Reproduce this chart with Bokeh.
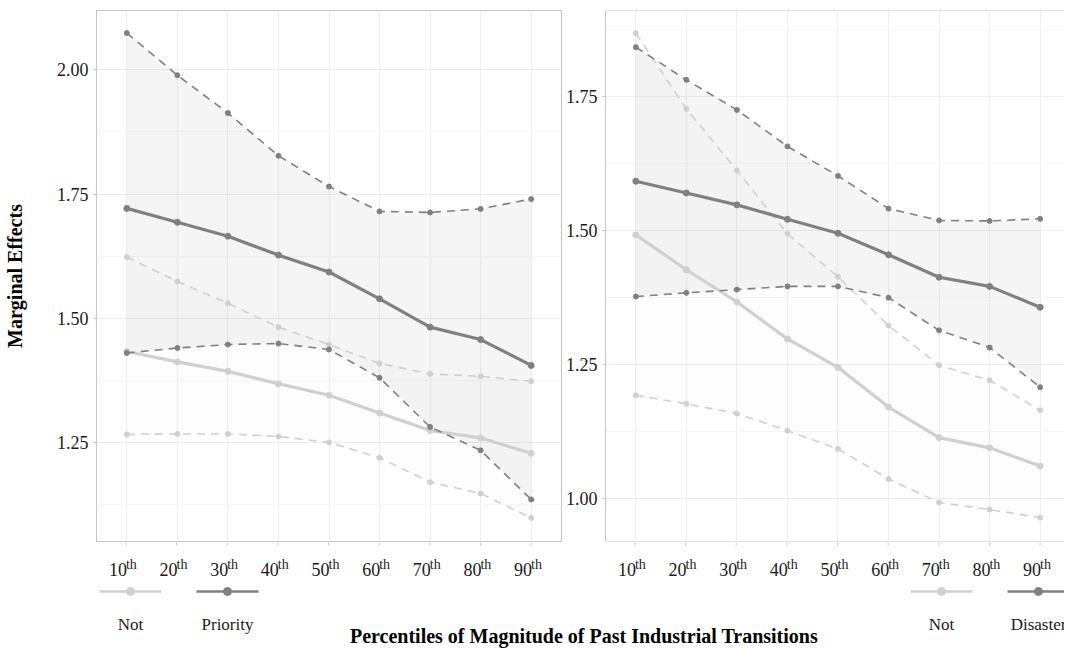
from bokeh.plotting import figure
from bokeh.layouts import column, row
from bokeh.models import Range1d, FixedTicker, Span, NumeralTickFormatter
from bokeh.core.properties import value
from bokeh.embed import file_html
from bokeh.resources import INLINE

# ---------------- data ----------------
percentiles = ["10", "20", "30", "40", "50", "60", "70", "80", "90"]
suffix = "th"
x_pos = [1, 2, 3, 4, 5, 6, 7, 8, 9]

# Left panel: Priority vs Not
left_not_est = [1.433, 1.412, 1.393, 1.368, 1.345, 1.309, 1.274, 1.259, 1.228]
left_not_lo = [1.266, 1.267, 1.267, 1.262, 1.250, 1.219, 1.170, 1.147, 1.098]
left_not_hi = [1.623, 1.574, 1.530, 1.482, 1.447, 1.409, 1.388, 1.383, 1.373]
priority_est = [1.721, 1.693, 1.665, 1.627, 1.593, 1.539, 1.482, 1.457, 1.405]
priority_lo = [1.430, 1.440, 1.447, 1.449, 1.437, 1.380, 1.281, 1.234, 1.135]
priority_hi = [2.074, 1.989, 1.913, 1.827, 1.765, 1.715, 1.713, 1.720, 1.740]

# Right panel: Disaster vs Not
right_not_est = [1.492, 1.427, 1.367, 1.298, 1.245, 1.171, 1.114, 1.095, 1.061]
right_not_lo = [1.193, 1.177, 1.159, 1.127, 1.093, 1.037, 0.993, 0.980, 0.965]
right_not_hi = [1.868, 1.727, 1.612, 1.494, 1.414, 1.323, 1.249, 1.221, 1.165]
disaster_est = [1.592, 1.570, 1.548, 1.521, 1.495, 1.455, 1.413, 1.396, 1.357]
disaster_lo = [1.377, 1.384, 1.390, 1.396, 1.396, 1.375, 1.314, 1.282, 1.208]
disaster_hi = [1.842, 1.781, 1.725, 1.657, 1.602, 1.541, 1.519, 1.518, 1.522]

left_yticks = [1.25, 1.50, 1.75, 2.00]
left_yminor = [1.125, 1.375, 1.625, 1.875]
right_yticks = [1.00, 1.25, 1.50, 1.75]
right_yminor = [1.125, 1.375, 1.625, 1.875]

left_legend = ["Not", "Priority"]
right_legend = ["Not", "Disaster"]
y_title = "Marginal Effects"
x_title = "Percentiles of Magnitude of Past Industrial Transitions"

# ---------------- style / layout ----------------
FONT = "Liberation Serif"
LIGHT = "#d0d0d0"
DARK = "#808080"
BORDER = "#c6c6c6"
GRID = "#eeeeee"
MINOR = "#f6f6f6"
TXT = "#1a1a1a"

PAGE_W, PAGE_H = 1064, 648
PANEL_H = 542
L_LEFT, L_RIGHT = 95, 561        # left panel frame (page px)
R_LEFT, R_RIGHT = 604, PAGE_W    # right panel frame (page px)
UNIT = (L_RIGHT - L_LEFT) / 9.2  # px per category step (shared by both panels)
TICK_BASE = 568.5                # baseline of the x tick numbers (page px)


def make_panel(width, border_left, border_right, x_end, y_lo, y_hi, yticks, yminor,
               series, outline=True):
    p = figure(width=width, height=PANEL_H, output_backend="svg", toolbar_location=None,
               title=None, x_range=Range1d(0.4, x_end), y_range=Range1d(y_lo, y_hi),
               x_axis_location=None,
               min_border_left=border_left, min_border_right=border_right,
               min_border_top=10, min_border_bottom=1)
    p.background_fill_color = "white"
    p.border_fill_color = "white"
    p.outline_line_color = BORDER if outline else None
    p.outline_line_width = 1

    ax = p.yaxis[0]
    ax.ticker = FixedTicker(ticks=yticks, minor_ticks=yminor)
    ax.formatter = NumeralTickFormatter(format="0.00")
    ax.axis_line_color = None if outline else BORDER
    ax.major_tick_line_color = BORDER
    ax.major_tick_out = 3
    ax.major_tick_in = 0
    ax.minor_tick_line_color = None
    ax.major_label_text_font = FONT
    ax.major_label_text_color = TXT
    ax.major_label_text_font_size = "18px"
    ax.major_label_standoff = 4

    p.xgrid.ticker = FixedTicker(ticks=x_pos)
    p.xgrid.grid_line_color = GRID
    p.ygrid.grid_line_color = GRID
    p.ygrid.minor_grid_line_color = MINOR

    if not outline:
        p.add_layout(Span(location=y_hi, dimension="width", line_color=BORDER, line_width=1))
        p.add_layout(Span(location=y_lo, dimension="width", line_color=BORDER, line_width=1))

    # ribbons
    for (est, lo, hi, col), a in zip(series, [0.05, 0.08]):
        p.varea(x=x_pos, y1=lo, y2=hi, fill_color=col, fill_alpha=a)
    # lines
    for est, lo, hi, col in series:
        for band in (lo, hi):
            p.line(x_pos, band, line_color=col, line_width=1.6, line_dash="8 6")
            p.scatter(x_pos, band, size=5, fill_color=col, line_color=col)
        p.line(x_pos, est, line_color=col, line_width=3.2)
        p.scatter(x_pos, est, size=6, fill_color=col, line_color=col)
    return p


left = make_panel(L_RIGHT + 1, L_LEFT, 1, 9.6, 1.0505, 2.1194,
                  left_yticks, left_yminor,
                  [(left_not_est, left_not_lo, left_not_hi, LIGHT),
                   (priority_est, priority_lo, priority_hi, DARK)])
left.yaxis.axis_label = y_title
left.yaxis.axis_label_text_font = FONT
left.yaxis.axis_label_text_font_style = "bold"
left.yaxis.axis_label_text_font_size = "20px"
left.yaxis.axis_label_text_color = "black"
left.yaxis.axis_label_standoff = 28

right = make_panel(PAGE_W - (L_RIGHT + 1), R_LEFT - (L_RIGHT + 1), 0,
                   0.4 + (R_RIGHT - R_LEFT) / UNIT, 0.9204, 1.9103,
                   right_yticks, right_yminor,
                   [(right_not_est, right_not_lo, right_not_hi, LIGHT),
                    (disaster_est, disaster_lo, disaster_hi, DARK)], outline=False)

# ---------------- bottom strip: tick labels, legends, x title ----------------
# frame spans page x 95..PAGE_W and page y 542..PAGE_H; the extra ranges reproduce
# the category scales of the two panels above.
strip_w = PAGE_W - L_LEFT
bot = figure(width=PAGE_W, height=PAGE_H - PANEL_H, output_backend="svg",
             toolbar_location=None, title=None,
             x_range=Range1d(L_LEFT, PAGE_W), y_range=Range1d(PAGE_H, PANEL_H),
             x_axis_type=None, y_axis_type=None,
             min_border_left=L_LEFT, min_border_right=0,
             min_border_top=0, min_border_bottom=0)
r_start = 0.4 - (R_LEFT - L_LEFT) / UNIT
bot.extra_x_ranges = {"L": Range1d(0.4, 0.4 + strip_w / UNIT),
                      "R": Range1d(r_start, r_start + strip_w / UNIT)}
bot.outline_line_color = None
bot.grid.visible = False
bot.background_fill_color = "white"
bot.border_fill_color = "white"

for rng in ("L", "R"):
    bot.segment(x0=x_pos, y0=[542] * 9, x1=x_pos, y1=[545] * 9, x_range_name=rng,
                line_color=BORDER, line_width=1)
    bot.text(x=x_pos, y=[TICK_BASE] * 9, text=percentiles, x_range_name=rng,
             text_align="right", text_baseline="alphabetic", x_offset=1,
             text_font=value(FONT), text_font_size="18px", text_color=TXT)
    bot.text(x=x_pos, y=[TICK_BASE - 5] * 9, text=[suffix] * 9, x_range_name=rng,
             text_align="left", text_baseline="alphabetic", x_offset=0,
             text_font=value(FONT), text_font_size="14px", text_color=TXT)

legend_centers = [[130, 227], [941, 1038]]
for centers, labels in zip(legend_centers, [left_legend, right_legend]):
    for cx, lab, col in zip(centers, labels, [LIGHT, DARK]):
        bot.line([cx - 31, cx + 31], [591, 591], line_color=col, line_width=2.6)
        bot.scatter([cx], [591], size=8, fill_color=col, line_color=col)
        bot.text([cx], [624], text=[lab], text_align="center", text_baseline="alphabetic",
                 text_font=value(FONT), text_font_size="17px", text_color=TXT)

bot.text([583.5], [635], text=[x_title], text_align="center", text_baseline="alphabetic",
         text_font=value(FONT), text_font_size="20px", text_font_style="bold",
         text_color="black")

layout = column(row(left, right, spacing=0), bot, spacing=0)
open("out.html", "w").write(file_html(layout, INLINE))
